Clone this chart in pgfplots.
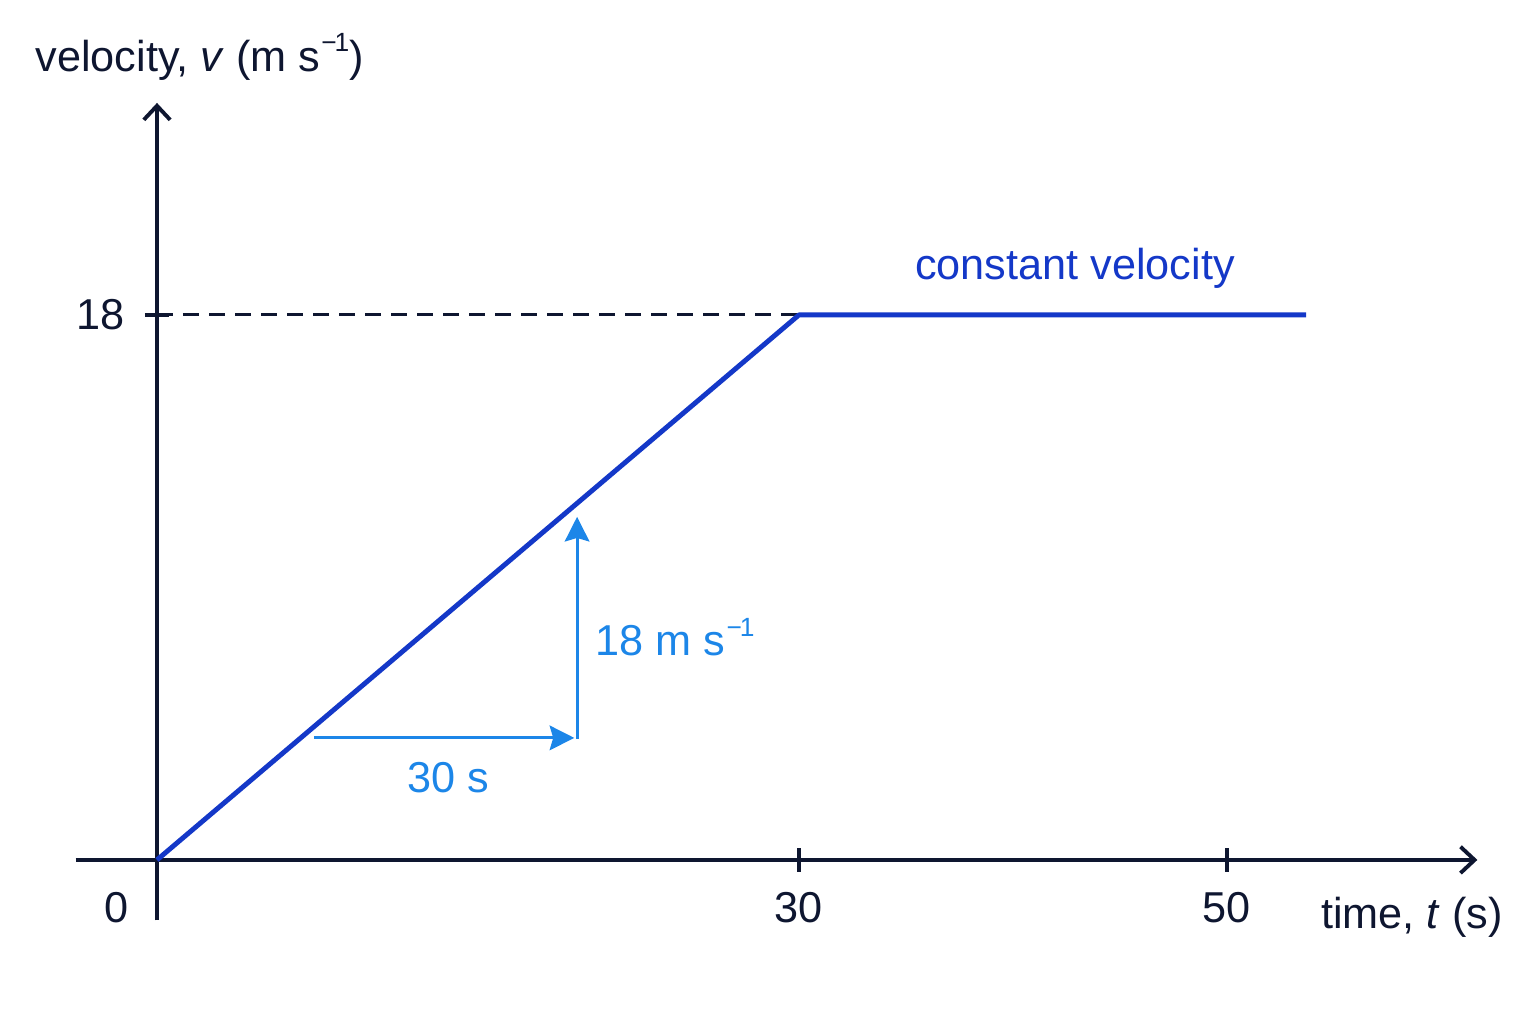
\documentclass[border=0pt]{standalone}
\usepackage{pgfplots}
\pgfplotsset{compat=1.18}
\usetikzlibrary{arrows.meta}
\usepackage{fontspec}
\setmainfont{Liberation Sans}

\definecolor{ink}{RGB}{14,22,48}
\definecolor{darkblue}{RGB}{20,56,200}
\definecolor{lightblue}{RGB}{28,134,232}

% small superscript -1 as in the reference
\newcommand{\invs}{s\kern0.3pt\raisebox{5.5pt}{\fontsize{7.5}{8}\selectfont −\kern-0.6pt1}}

\begin{document}
\begin{tikzpicture}[lbl/.style={font=\fontsize{12.3}{15}\selectfont}]
\begin{axis}[
    x=0.214cm, y=0.3028cm,
    xmin=-3.8, xmax=61.7,
    ymin=-2, ymax=25,
    axis lines=middle,
    axis line style={ink, line width=1.1pt, -{Straight Barb[length=4pt,width=7.5pt,line width=1.1pt]}},
    xtick={30,50}, ytick={18},
    tick align=center,
    major tick length=0.24cm,
    tick style={ink, line width=1.1pt},
    xticklabel style={anchor=center, yshift=-0.36cm},
    yticklabel style={anchor=center, xshift=-0.44cm},
    ticklabel style={font=\fontsize{12.3}{15}\selectfont, text=ink},
    /pgf/number format/assume math mode=true,
    clip=false,
]
% dashed guide at 18
\addplot[ink, line width=0.85pt, dash pattern=on 4.6pt off 2.8pt] coordinates {(0,18) (30,18)};

% velocity-time line
\addplot[darkblue, line width=1.4pt, line join=round] coordinates {(0,0) (30,18) (53.7,18)};

% slope triangle
\addplot[lightblue, line width=0.85pt, -{Stealth[length=7pt,width=7pt,inset=1pt]}] coordinates {(7.34,4.03) (19.5,4.03)};
\addplot[lightblue, line width=0.85pt, -{Stealth[length=7pt,width=7pt,inset=1pt]}] coordinates {(19.63,4.0) (19.63,11.33)};

\node[lbl, text=ink] at (axis cs:-1.87,-1.585) {0};
\node[lbl, text=lightblue] at (axis cs:13.6,2.71) {30 s};
\node[lbl, text=lightblue, anchor=west, inner sep=0pt] at (axis cs:20.47,7.36) {18 m \invs};
\node[lbl, text=darkblue] at (axis cs:42.9,19.55) {constant velocity};

\node[lbl, text=ink, anchor=west, inner sep=0pt] at (axis cs:-5.70,26.52) {velocity, \textit{v} (m \invs)};
\node[lbl, text=ink] at (axis cs:58.64,-1.88) {time, \textit{t} (s)};

% page extent
\path (axis cs:-7.336,-5.416) rectangle (axis cs:64.44,28.40);
\end{axis}
\end{tikzpicture}
\end{document}
